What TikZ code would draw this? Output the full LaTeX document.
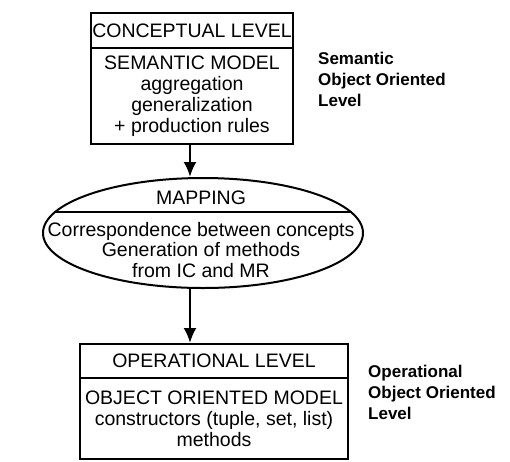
\documentclass[tikz,border=0pt]{standalone}
\usepackage{fontspec}
\setmainfont{Liberation Sans}
\usepackage{tikz}
\usetikzlibrary{shapes.geometric, positioning, calc, arrows.meta}
\tikzstyle{header}=[rectangle, draw=black, line width=2pt, text centered, inner sep=0pt, font=\fontsize{19.5}{21}\selectfont]
\tikzstyle{body}=[rectangle, draw=black, line width=2pt, align=center, inner sep=0pt, font=\fontsize{19.5}{21}\selectfont]
\tikzstyle{mapping}=[ellipse, draw=black, line width=2pt, minimum width=320pt, minimum height=110pt, inner sep=0pt]
\tikzstyle{maptext}=[align=center, inner sep=0pt, font=\fontsize{19.5}{20.5}\selectfont]
\tikzstyle{side}=[anchor=west, align=left, inner sep=0pt, font=\fontsize{17}{21}\selectfont\bfseries]
\tikzstyle{arrow}=[line width=2.4pt, ->, >={Latex[length=15pt,width=13pt]}]

\begin{document}
\begin{tikzpicture}[x=1pt, y=-1pt]
	\def \topw {202pt}
	\def \botw {268pt}
	\useasboundingbox (0,0) rectangle (510,461);

	% conceptual level
	\node[header, minimum width=\topw, minimum height=35pt] (conceptual) at (192,30.5) {CONCEPTUAL LEVEL};
	\node[body, minimum width=\topw, minimum height=96pt] (semantic) at (192,96) {SEMANTIC MODEL\\aggregation\\generalization\\+ production rules};

	% mapping
	\node[mapping] (mapping) at (203,233) {};
	\draw[line width=2pt] (mapping.172) -- (mapping.8);
	\path (201,198) node[maptext] (maptitle) {MAPPING}
		(201,250) node[maptext] (mapbody) {Correspondence between concepts\\Generation of methods\\from IC and MR};

	% operational level
	\node[header, minimum width=\botw, minimum height=34pt] (operational) at (214,361) {OPERATIONAL LEVEL};
	\node[body, minimum width=\botw, minimum height=81pt] (oomodel) at (214,418.5) {OBJECT ORIENTED MODEL\\constructors (tuple, set, list)\\methods};

	\draw[arrow] (190,144) coordinate (topstart) -- (topstart |- mapping.north);
	\draw[arrow] (190,288) coordinate (botstart) -- (botstart |- operational.north);

	% side labels
	\path (318,79) node[side] (semlabel) {Semantic\\Object Oriented\\Level}
		(368,392) node[side] (oplabel) {Operational\\Object Oriented\\Level};
\end{tikzpicture}
\end{document}
